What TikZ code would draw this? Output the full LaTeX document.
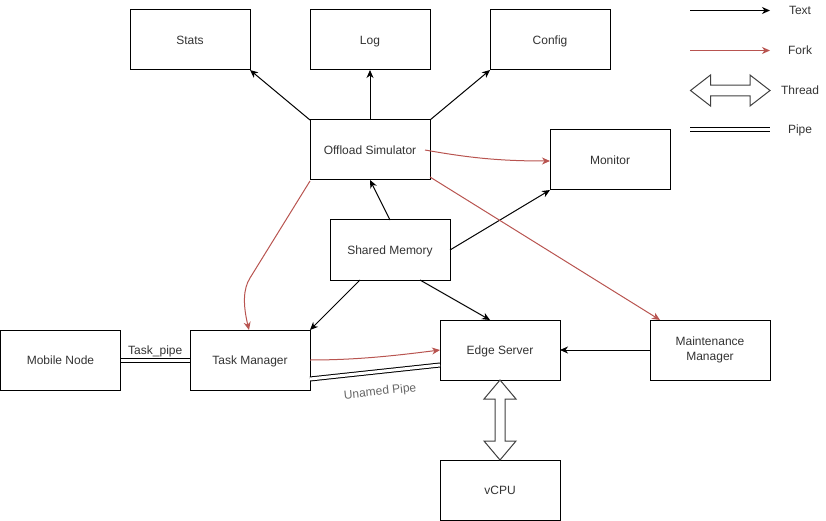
\documentclass[tikz,border=0pt]{standalone}
\usepackage{fontspec}
\setmainfont{Liberation Sans}
\usetikzlibrary{arrows.meta,calc}
\definecolor{forkred}{HTML}{B85450}
\definecolor{textc}{HTML}{333333}
\definecolor{pipelbl}{HTML}{666666}
\begin{document}
\begin{tikzpicture}[x=1pt,y=-1pt,
  txt/.style={font=\fontsize{12}{15}\selectfont, text=textc},
  box/.style={txt, draw, line width=1pt, fill=white, minimum width=120pt, minimum height=60pt, inner sep=0pt, outer sep=0pt, align=center},
  one/.style={text height=10.5pt, text depth=2pt},
  textarrow/.style={draw=black, line width=1pt, -{Stealth[length=8pt,width=7pt,inset=2.5pt]}},
  forkarrow/.style={draw=forkred, line width=1pt, -{Stealth[length=8pt,width=7pt,inset=2.5pt]}},
  pipeline/.style={draw=black, line width=1pt, double=white, double distance=3pt},
  threadarrow/.style={draw=black!75, fill=white, line width=1pt, line join=miter},
  lbl/.style={txt, inner sep=1pt}
]
\useasboundingbox (0,0) rectangle (826,521);

% boxes
\node[box,one] (stats) at (190,40) {Stats};
\node[box,one] (log) at (370,40) {Log};
\node[box,one] (config) at (550,40) {Config};
\node[box,one] (os) at (370,150) {Offload Simulator};
\node[box,one] (mon) at (610,160) {Monitor};
\node[box,one] (sm) at (390,250) {Shared Memory};
\node[box,one] (mob) at (60.5,360) {Mobile Node};
\node[box,one] (tm) at (250,360) {Task Manager};
\node[box,one] (es) at (500,350) {Edge Server};
\node[box] (mm) at (710,350) {Maintenance\\Manager};
\node[box,one] (vcpu) at (500,490) {vCPU};

% text arrows
\draw[textarrow] (os.north west) -- (stats.south east);
\draw[textarrow] (os.north) -- (log.south);
\draw[textarrow] (os.north east) -- (config.south west);
\draw[textarrow] ($(sm.north)$) -- ($(os.south)$);
\draw[textarrow] (sm.east) -- (mon.south west);
\draw[textarrow] ($(sm.south west)+(30,0)$) -- (tm.north east);
\draw[textarrow] ($(sm.south east)+(-30,0)$) -- ($(es.north)+(-10,0)$);
\draw[textarrow] (mm.west) -- (es.east);

% fork arrows
\draw[forkarrow] ($(os.east)+(-5,0)$) .. controls (470,158) and (500,161) .. ($(mon.west)+(0,1)$);
\draw[forkarrow] ($(os.south west)+(0,1)$) -- (250,278) .. controls (243,289) and (243,305) .. ($(tm.north)+(-1,0)$);
\draw[forkarrow] ($(os.south east)+(0,-3)$) -- ($(mm.north west)+(10,0)$);
\draw[forkarrow] (tm.east) .. controls (360,360) and (400,355) .. (es.west);

% pipes
\draw[pipeline] (mob.east) -- node[lbl, above=2pt] (tplbl) {Task\_pipe} (tm.west);
\draw[pipeline] ($(tm.south east)+(0,-11)$) -- ($(es.south west)+(0,-15)$);
\node[lbl, one, text=pipelbl, rotate=6] (uplbl) at (380,391) {Unamed Pipe};

% thread arrow edge server <-> vcpu
\coordinate (t1) at (es.south);
\coordinate (t2) at (vcpu.north);
\draw[threadarrow] (t1) -- ($(t1)+(16,19)$) -- ($(t1)+(5,19)$) -- ($(t2)+(5,-19)$) -- ($(t2)+(16,-19)$) -- (t2)
  -- ($(t2)+(-16,-19)$) -- ($(t2)+(-5,-19)$) -- ($(t1)+(-5,19)$) -- ($(t1)+(-16,19)$) -- cycle;

% legend
\coordinate (la1) at (690,10.5);  \coordinate (lb1) at (770,10.5);
\coordinate (la2) at (690,50.5);  \coordinate (lb2) at (770,50.5);
\coordinate (la3) at (690.5,90.5); \coordinate (lb3) at (770,90.5);
\coordinate (la4) at (690,130);   \coordinate (lb4) at (770,130);
\draw[textarrow] (la1) -- (lb1);
\draw[forkarrow] (la2) -- (lb2);
\draw[threadarrow] (la3) -- ($(la3)+(20,-15.5)$) -- ($(la3)+(20,-5.3)$) -- ($(lb3)+(-20,-5.3)$) -- ($(lb3)+(-20,-15.5)$) -- (lb3)
  -- ($(lb3)+(-20,15.5)$) -- ($(lb3)+(-20,5.3)$) -- ($(la3)+(20,5.3)$) -- ($(la3)+(20,15.5)$) -- cycle;
\draw[pipeline] (la4) -- (lb4);
\node[lbl,one] (lt1) at (800,10) {Text};
\node[lbl,one] (lt2) at (800,50) {Fork};
\node[lbl,one] (lt3) at (800,90) {Thread};
\node[lbl,one] (lt4) at (800,129) {Pipe};
\end{tikzpicture}
\end{document}
